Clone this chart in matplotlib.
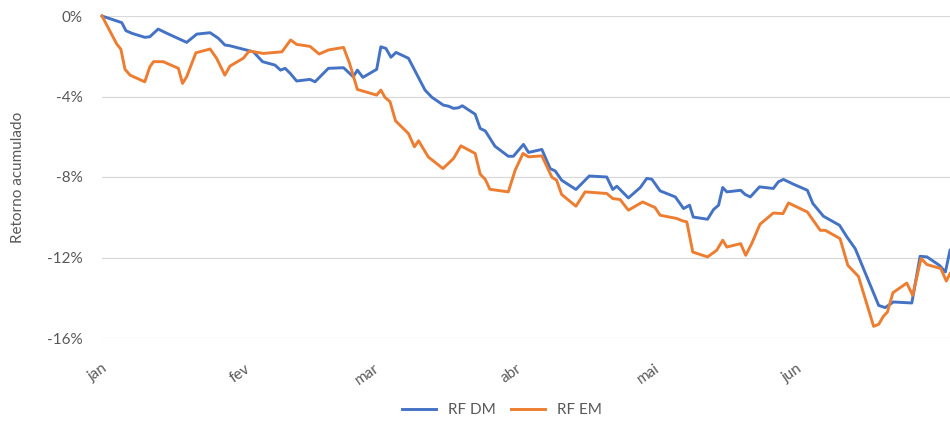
import matplotlib
matplotlib.use('Agg')
import matplotlib.pyplot as plt
from matplotlib.ticker import FuncFormatter

plt.rcParams['font.family'] = ['Lato', 'DejaVu Sans']

# dias desde 1 de janeiro
dm_dias = [0, 4.3, 5.2, 6.5, 9.3, 10.4, 12.2, 14.1, 18.4, 20.6, 23.5, 25.3, 26.7, 27.8,
           32.9, 34.9, 37.6, 38.8, 39.8, 40.9, 42.3, 45.2, 46.3, 49.2, 52.5, 54.6, 55.5,
           56.7, 59.7, 60.6, 61.7, 62.8, 63.9, 66.6, 68.4, 70.2, 71.7, 74.2, 75.3, 76.4,
           77.5, 78.3, 81.1, 82.2, 83.3, 85.4, 88.3, 89.4, 91.6, 92.7, 95.6, 97.4, 98.5,
           99.9, 103.0, 105.9, 109.7, 111.0, 111.9, 114.4, 117.0, 118.4, 119.5, 121.3,
           124.6, 126.4, 127.7, 128.5, 131.6, 132.9, 134.0, 134.9, 135.8, 138.8, 139.8,
           140.9, 142.9, 145.9, 147.0, 148.1, 150.3, 153.3, 154.5, 156.8, 160.3, 161.9,
           163.7, 168.8, 170.2, 172.0, 176.0, 177.8, 179.3, 182.0, 183.3, 184.3]
dm_ret = [0, -0.33, -0.73, -0.86, -1.06, -1.03, -0.65, -0.86, -1.31, -0.90, -0.83, -1.11,
          -1.44, -1.48, -1.78, -2.27, -2.44, -2.69, -2.60, -2.85, -3.23, -3.15, -3.27,
          -2.60, -2.57, -3.02, -2.69, -3.05, -2.65, -1.53, -1.61, -2.05, -1.81, -2.10,
          -2.89, -3.68, -4.04, -4.43, -4.48, -4.59, -4.56, -4.46, -4.88, -5.59, -5.71,
          -6.47, -6.97, -6.97, -6.38, -6.78, -6.63, -7.58, -7.70, -8.16, -8.62, -7.95,
          -8.00, -8.62, -8.46, -9.04, -8.52, -8.07, -8.11, -8.69, -8.99, -9.57, -9.40,
          -9.99, -10.10, -9.62, -9.40, -8.52, -8.74, -8.66, -8.87, -8.99, -8.49, -8.57,
          -8.24, -8.12, -8.36, -8.66, -9.32, -9.95, -10.40, -10.98, -11.56, -14.38,
          -14.49, -14.21, -14.26, -11.94, -11.97, -12.39, -12.72, -11.64]

em_dias = [0, 3.2, 4.1, 5.0, 6.1, 9.3, 10.4, 11.2, 13.3, 16.6, 17.5, 18.4, 20.4, 23.5,
           24.9, 26.7, 27.8, 30.7, 32.0, 35.1, 39.1, 41.0, 42.3, 45.2, 47.2, 49.2, 52.5,
           53.8, 55.5, 59.7, 60.6, 61.5, 62.6, 63.8, 66.6, 67.9, 68.8, 70.9, 74.1, 76.4,
           78.0, 81.1, 82.2, 83.3, 84.3, 88.3, 89.8, 91.5, 92.7, 95.6, 97.8, 98.8, 99.9,
           103.0, 105.0, 109.7, 111.0, 112.6, 114.4, 117.5, 120.2, 121.3, 124.9, 126.2,
           127.1, 128.4, 131.6, 133.6, 134.9, 135.8, 138.8, 139.9, 141.2, 143.0, 145.9,
           148.0, 149.2, 153.3, 156.1, 157.2, 160.4, 162.1, 164.4, 167.7, 168.8, 169.8,
           170.7, 171.9, 174.9, 176.2, 178.0, 179.3, 182.3, 183.5, 184.3]
em_ret = [0, -1.39, -1.65, -2.65, -2.94, -3.27, -2.52, -2.27, -2.27, -2.60, -3.35, -3.02,
          -1.83, -1.64, -2.10, -2.94, -2.49, -2.10, -1.74, -1.86, -1.78, -1.19, -1.41,
          -1.51, -1.89, -1.69, -1.56, -2.35, -3.65, -3.93, -3.68, -4.04, -4.26, -5.21,
          -5.84, -6.50, -6.20, -7.00, -7.58, -7.08, -6.45, -6.83, -7.86, -8.12, -8.61,
          -8.74, -7.66, -6.83, -7.00, -6.95, -8.02, -8.16, -8.87, -9.45, -8.74, -8.82,
          -9.07, -9.12, -9.65, -9.24, -9.52, -9.90, -10.06, -10.18, -10.23, -11.73,
          -11.97, -11.64, -11.14, -11.48, -11.31, -11.89, -11.31, -10.35, -9.79, -9.82,
          -9.29, -9.74, -10.65, -10.65, -11.06, -12.39, -12.94, -15.42, -15.32, -14.93,
          -14.71, -13.75, -13.27, -13.88, -12.05, -12.35, -12.55, -13.17, -12.80]

meses = ['jan', 'fev', 'mar', 'abr', 'mai', 'jun']
meses_dia = [0, 31, 59, 90, 120, 151]
y_ticks = [0, -4, -8, -12, -16]

cinza = '#595959'

fig = plt.figure(figsize=(9.5, 4.21), dpi=100)
ax = fig.add_axes([102 / 950, 1 - 338 / 421, 848 / 950, 322 / 421])

ax.plot(dm_dias, dm_ret, color='#4472C4', lw=2.1, label='RF DM', clip_on=False, zorder=3)
ax.plot(em_dias, em_ret, color='#ED7D31', lw=2.1, label='RF EM', clip_on=False, zorder=3)

ax.set_xlim(0, 184.3)
ax.set_ylim(-16, 0)
ax.set_yticks(y_ticks)
ax.yaxis.set_major_formatter(FuncFormatter(lambda v, p: f'{v:.0f}%'))
ax.set_xticks(meses_dia)
ax.set_xticklabels(meses, rotation=35, ha='right', va='top', rotation_mode='anchor')

ax.grid(axis='y', color='#D9D9D9', lw=0.9)
ax.set_axisbelow(True)
for s in ax.spines.values():
    s.set_visible(False)
ax.tick_params(length=0, colors=cinza, labelsize=11)
ax.tick_params(axis='x', pad=17)
ax.tick_params(axis='y', pad=14)

ax.set_ylabel('Retorno acumulado', color=cinza, fontsize=11, labelpad=16)

fig.legend(loc='center', bbox_to_anchor=(502 / 950, 11 / 421), ncol=2, frameon=False,
           fontsize=11, handlelength=2.2, columnspacing=1.0, labelcolor=cinza)

fig.savefig('out.png', dpi=100)
